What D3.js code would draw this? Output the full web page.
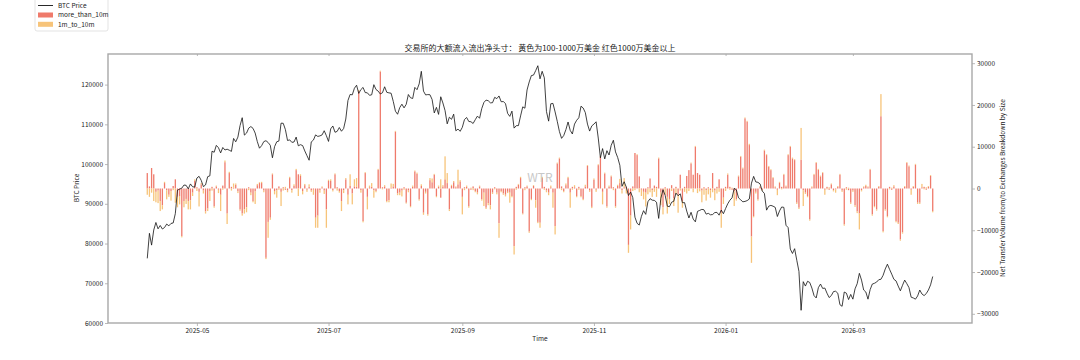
<!DOCTYPE html>
<html><head><meta charset="utf-8">
<script src="https://cdn.jsdelivr.net/npm/d3@7"></script>
<style>
body{margin:0;background:#fff}
svg{display:block}
text{font-family:"Noto Sans CJK SC","Noto Sans",sans-serif}
</style>
</head><body>
<svg id="c" width="1080" height="360"></svg>
<script>
const startDate = "2025-04-08";
const title = "交易所的大额流入流出净头寸： 黄色为100-1000万美金 红色1000万美金以上";
const seriesNames = ["BTC Price", "more_than_10m", "1m_to_10m"];
const leftTicks = [60000, 70000, 80000, 90000, 100000, 110000, 120000];
const rightTicks = [-30000, -20000, -10000, 0, 10000, 20000, 30000];
const xTickLabels = ["2025-05", "2025-07", "2025-09", "2025-11", "2026-01", "2026-03"];

const btcPrice = [
76270,82570,79600,83400,85300,83700,84540,83650,84030,84900,84450,85060,85170,87520,93440,93700,93940,94720,94650,93750,95000,94280,94200,
96490,96910,95890,94320,94750,96830,97030,103240,102970,104700,104110,102810,104170,103540,103740,103490,103190,106450,105600,106790,109680,111670,107290,107790,109040,109440,108990,107800,105640,103990,104640,
105650,105880,105430,104730,101580,104390,105610,105790,110290,110260,108690,105930,106090,105470,105550,106790,104600,104880,104660,103300,102120,100960,105580,106040,107340,106960,107090,107330,108390,107140,
105700,108860,109580,108000,108230,109200,108260,108950,111330,115990,117520,117420,119090,119840,117780,118750,119290,117990,117930,117300,117440,119980,118760,118360,117640,117950,119450,118060,117920,117830,115760,
113300,112540,114210,115070,114140,115030,117500,116690,116500,119290,118720,120170,123340,118360,117400,117490,117450,116250,112870,114270,112500,116940,115370,113460,110120,111800,111260,112560,108380,108810,108240,
109250,111200,111720,110720,110650,110210,111170,112070,111530,113960,115500,116100,115950,115410,115440,116790,116470,117140,115690,115730,115230,112750,112000,113320,109050,109660,109680,112120,114400,114060,
118650,120660,122270,122390,123510,124750,121450,123350,121700,113200,110800,115170,115270,113120,110760,108190,106470,107190,108670,110590,108480,107570,110060,111030,111650,114560,114110,112950,110060,108300,109610,
110060,110640,106550,101590,103890,101300,103370,102280,104720,105990,103060,101650,99700,94400,95550,94180,92090,92950,91550,86630,85090,84650,86830,88270,87340,90520,91290,90920,90850,90390,
86320,91350,93530,92140,89390,89270,90400,90640,92690,92020,92510,90270,90300,88170,86430,87860,86150,85460,88100,88340,88600,88490,87400,87600,87230,87300,87800,87840,87140,88430,87500,
88800,90000,90900,91500,93900,93500,91500,91000,90500,90600,90800,91200,95200,96900,95500,95400,95000,93200,92600,88400,89400,89600,89400,89100,86800,88200,89200,89100,84600,84000,78600,
77500,78700,75800,73000,63200,70400,69300,70500,70200,68800,66900,66300,68900,69800,68700,68800,67500,66400,66900,67900,68000,67500,64600,64200,67800,67500,65900,67200,
66000,68600,69900,72500,70800,68300,67800,66000,68400,69800,70000,70300,70900,71000,72000,73600,74800,73500,72300,71000,70600,69300,68100,69500,70800,69900,68900,66500,66300,66000,66800,
68300,67300,66900,67400,68300,69600,71700
];

const moreThan10m = [
3700,500,4900,3400,-800,-500,-3000,-4000,1300,-400,
-1500,-600,600,2200,-2000,-1800,-11400,-3000,-2500,-3000,
-2800,-1000,1800,300,-800,1000,-500,-5500,-4800,-600,
400,-4300,500,-300,-1500,700,6300,-6000,3700,400,
200,900,-700,-5000,-6000,-5000,-4500,300,-1000,-3000,
-700,800,1300,1300,-500,-16600,-8000,-7000,3400,-600,
-400,500,-800,300,-300,-500,2500,-400,600,4400,
3400,3000,-600,800,-300,400,-500,-300,-7000,-6500,
-400,300,-500,-5000,1800,1800,-400,3400,300,-600,
-3000,-400,2200,-1500,600,-1200,500,400,23300,-400,
-7800,3700,-2000,300,400,-400,-600,4500,28000,300,
500,-3000,-2800,200,500,13600,-1200,-1000,-500,300,
-3400,-500,-4200,400,4100,3500,-2600,600,-5800,-800,
-6200,2000,1500,3300,-1800,400,-2200,500,2200,1300,
-5000,600,1500,300,1000,1700,-2000,300,400,-4200,
-300,500,-600,-1000,500,-2600,-1000,-4600,-3500,-4000,
-1000,300,-1000,-8300,-600,-1200,-1500,-800,-1000,-1800,
-13800,400,900,2500,-6000,300,500,-10300,-2500,600,
-2800,-8000,-8200,2500,400,-500,-1000,300,-1000,-9000,
6000,7200,500,-600,800,2500,-1000,400,300,-1800,
400,-1800,-2500,500,5400,-500,-4400,2100,-300,5600,
7600,-800,3600,-4300,400,2900,300,-4300,600,1300,
-400,300,400,-13500,-6500,500,8500,8000,2900,-300,
-800,-1000,300,2400,-400,700,400,7200,-1000,-4500,
300,-2000,-2500,800,-2400,400,-1500,3300,-3000,400,
3000,4400,6000,3300,10000,3700,3300,-500,300,-400,
300,-400,3700,-500,400,2200,-5800,-2200,400,3300,
400,-300,-700,-2600,2900,7600,4800,16800,16000,10400,
-11500,-6600,-800,-2600,400,-300,9100,8000,5200,4400,
2500,300,-300,1400,400,3300,500,8000,10000,7200,
6800,-3400,-4600,6900,-400,-1000,-1800,-7400,300,3300,
6100,4500,2900,3700,-300,400,-300,1000,-400,-200,
400,3300,-500,-8600,300,-400,-3400,-500,-4000,-5500,
-6000,-400,300,600,300,4500,-6200,-4200,-5000,400,
17300,-10200,-5000,-6600,400,-300,500,-7800,-8200,-12200,
-10500,400,6100,5300,-300,400,5700,-3400,-3400,300,
400,-300,400,3000,-5400
];

const oneTo10m = [
-1500,-2000,-1000,-3000,-2500,-3000,-2400,-1000,300,-2200,
-500,-2300,-400,-3400,-2500,-2000,-300,-1500,-1200,-2000,
-2200,-800,400,-600,-3500,300,-700,-500,-600,-2400,
-500,-300,200,-800,-3900,-300,400,-2500,300,-500,
1000,300,-400,-300,-500,-1000,-1200,-400,-600,-300,
-3000,300,200,300,-400,-300,-3800,-500,200,-800,
-1800,-300,-3400,-500,400,-400,300,-600,400,300,
-1800,400,-800,300,-500,600,-300,-1200,-2400,-2900,
-600,200,-800,-4400,300,400,-300,200,-500,-400,
-2400,-700,300,-2300,2800,-2600,1700,2100,300,-600,
-300,200,-3000,400,900,-1800,-300,200,200,-200,
300,-300,-500,1000,600,200,-400,-600,-1400,-300,
-200,-400,-300,300,200,300,-300,400,-500,-400,
-300,500,900,200,-300,300,2200,300,5500,2400,
-400,300,300,200,3500,300,-4200,-400,300,-400,
200,-400,-300,-400,200,-300,-3200,-300,-500,-1000,
-300,-200,-400,-3500,-300,-300,-400,-300,-2400,-300,
-2000,-300,200,300,-200,-400,200,-300,-300,200,
-1800,-300,-1200,300,-300,-400,-600,400,-3600,-2000,
200,200,-400,-300,400,300,-3600,-300,500,-300,
-300,-300,-300,400,200,-300,-300,300,-500,200,
200,-3000,200,-300,300,200,-400,-300,300,1000,
-800,2200,-1200,-1900,-3300,-600,-400,200,-900,-1500,
-1800,-3300,-1400,-900,-1600,-800,-2000,200,-3000,-1700,
-1500,-4000,-1200,-600,-1800,-1300,-4300,-500,-1600,-800,
-1200,-600,200,-900,200,-1100,-700,-2800,-1500,-2500,
-1400,-1800,-900,-2300,-1200,-800,-3600,-1500,-600,300,
-300,200,-3500,-300,200,200,200,200,200,300,
-6300,-300,-400,-300,200,-200,200,200,200,200,
200,200,-1300,200,-200,200,200,200,200,200,
200,-300,-300,7600,-3800,-300,-300,-300,200,200,
200,200,200,200,-1200,-200,300,200,-300,-800,
200,200,-300,-300,-300,200,-300,-300,-400,-400,
-3800,-300,200,300,200,200,-300,-300,-300,200,
5300,-300,-300,-300,-200,200,300,-300,-300,-300,
-300,200,200,200,-1200,200,200,-300,-300,800,
-200,300,200,200,-300
];

const W = 1080, H = 360;
const plot = {l:108, r:972, t:54, b:323};
const colors = {price:"#111", red:"#ef7a6b", orange:"#f7c47a", spine:"#a8a8a8", text:"#222"};

const svg = d3.select("#c");
svg.append("rect").attr("width", W).attr("height", H).attr("fill", "#fff");

const start = d3.utcParse("%Y-%m-%d")(startDate);
const rows = btcPrice.map((p, i) => ({
  date: d3.utcDay.offset(start, i),
  price: p,
  red: moreThan10m[i],
  orange: oneTo10m[i]
}));

const first = rows[0].date, last = rows[rows.length - 1].date;
const pad = (last - first) * 0.05;
const x = d3.scaleUtc().domain([new Date(+first - pad), new Date(+last + pad)]).range([plot.l, plot.r]);
const yL = d3.scaleLinear().domain([60000, 127700]).range([plot.b, plot.t]);
const yR = d3.scaleLinear().domain([-32200, 32200]).range([plot.b, plot.t]);

// bars (diverging stack)
const stack = d3.stack().keys(["red", "orange"]).offset(d3.stackOffsetDiverging)(rows);
const dayW = x(d3.utcDay.offset(first, 1)) - x(first);
const bw = dayW * 0.6;
const gBars = svg.append("g");
stack.forEach(layer => {
  gBars.append("g").attr("fill", layer.key === "red" ? colors.red : colors.orange)
    .selectAll("rect").data(layer).join("rect")
    .attr("x", d => x(d.data.date) - bw / 2)
    .attr("width", bw)
    .attr("y", d => yR(Math.max(d[0], d[1])))
    .attr("height", d => Math.abs(yR(d[0]) - yR(d[1])));
});

// watermark
svg.append("text").attr("x", 540).attr("y", 182).attr("text-anchor", "middle")
  .attr("font-size", 12).attr("fill", "#c8c8c8").text("WTR");

// price line
svg.append("path").datum(rows)
  .attr("fill", "none").attr("stroke", colors.price).attr("stroke-width", 0.8)
  .attr("stroke-linejoin", "round")
  .attr("d", d3.line().x(d => x(d.date)).y(d => yL(d.price)));

// axes
const fs = 6.5;
function styleAxis(g) {
  g.select(".domain").remove();
  g.selectAll(".tick line").attr("stroke", colors.spine).attr("stroke-width", 0.8);
  g.selectAll(".tick text").attr("fill", colors.text).attr("font-size", fs)
    .attr("font-family", '"Noto Sans CJK SC", sans-serif');
}
const parseMonth = d3.utcParse("%Y-%m");
const xTickDates = xTickLabels.map(parseMonth);
svg.append("g").attr("transform", `translate(0,${plot.b})`)
  .call(d3.axisBottom(x).tickValues(xTickDates).tickFormat(d3.utcFormat("%Y-%m")).tickSize(3).tickPadding(2))
  .call(styleAxis);
svg.append("g").attr("transform", `translate(0,${plot.t})`)
  .call(d3.axisBottom(x).tickValues(xTickDates).tickFormat("").tickSize(2))
  .call(styleAxis);
svg.append("g").attr("transform", `translate(${plot.l},0)`)
  .call(d3.axisLeft(yL).tickValues(leftTicks).tickFormat(d3.format("d")).tickSize(3).tickPadding(2))
  .call(styleAxis);
svg.append("g").attr("transform", `translate(${plot.r},0)`)
  .call(d3.axisRight(yR).tickValues(rightTicks).tickFormat(d3.format("d")).tickSize(3).tickPadding(2))
  .call(styleAxis);

// spines
svg.append("rect").attr("x", plot.l).attr("y", plot.t)
  .attr("width", plot.r - plot.l).attr("height", plot.b - plot.t)
  .attr("fill", "none").attr("stroke", colors.spine).attr("stroke-width", 1.4);

// labels
svg.append("text").attr("x", 540).attr("y", 50.5).attr("text-anchor", "middle")
  .attr("font-size", 8).attr("fill", colors.text).text(title);
svg.append("text").attr("x", 540).attr("y", 341).attr("text-anchor", "middle")
  .attr("font-size", fs).attr("fill", colors.text).text("Time");
svg.append("text").attr("transform", "translate(79,188) rotate(-90)").attr("text-anchor", "middle")
  .attr("font-size", fs).attr("fill", colors.text).text("BTC Price");
svg.append("text").attr("transform", "translate(1005,188) rotate(-90)").attr("text-anchor", "middle")
  .attr("font-size", fs).attr("fill", colors.text).text("Net Transfer Volume from/to Exchanges Breakdown by Size");

// legend
const lg = svg.append("g");
lg.append("rect").attr("x", 35).attr("y", -2).attr("width", 73).attr("height", 33).attr("rx", 2)
  .attr("fill", "#fff").attr("stroke", "#dcdcdc").attr("stroke-width", 0.8);
lg.append("line").attr("x1", 38).attr("x2", 53).attr("y1", 5.5).attr("y2", 5.5)
  .attr("stroke", colors.price).attr("stroke-width", 0.9);
lg.append("rect").attr("x", 38).attr("y", 12.5).attr("width", 15).attr("height", 5).attr("fill", colors.red);
lg.append("rect").attr("x", 38).attr("y", 21.8).attr("width", 15).attr("height", 5).attr("fill", colors.orange);
[5.5, 15, 24.3].forEach((yy, i) => {
  lg.append("text").attr("x", 58).attr("y", yy).attr("dy", "0.35em")
    .attr("font-size", fs).attr("fill", colors.text).text(seriesNames[i]);
});
</script>
</body></html>
